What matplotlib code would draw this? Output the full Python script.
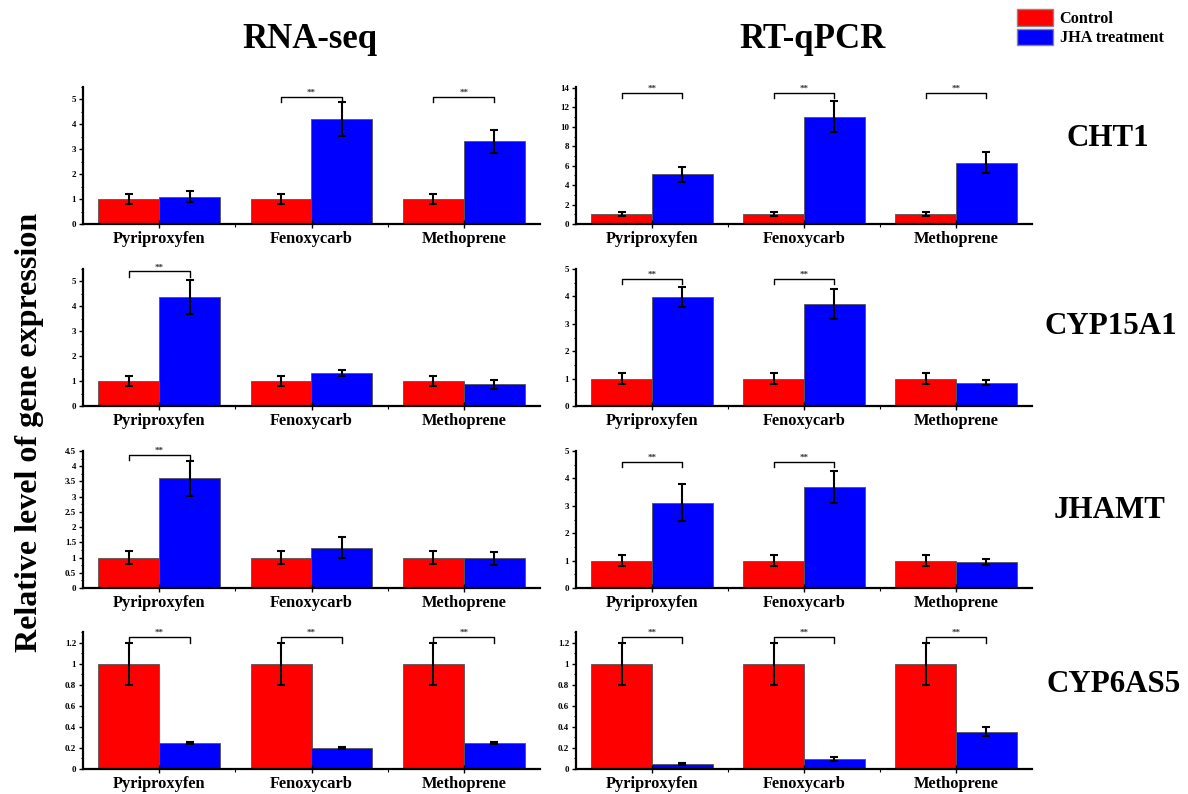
import numpy as np
import matplotlib.pyplot as plt
from matplotlib.patches import Patch
from matplotlib.ticker import MultipleLocator, FixedLocator

plt.rcParams['font.family'] = ['Liberation Serif', 'DejaVu Serif']
plt.rcParams['font.weight'] = 'bold'

treatments = ['Pyriproxyfen', 'Fenoxycarb', 'Methoprene']
genes = ['CHT1', 'CYP15A1', 'JHAMT', 'CYP6AS5']

# 对照组都是 1 ± 0.2
control_mean = [1.0, 1.0, 1.0]
control_err = [0.2, 0.2, 0.2]

# RNA-seq, JHA 处理组
rnaseq_mean = [
    [1.10, 4.20, 3.32],
    [4.37, 1.33, 0.87],
    [3.60, 1.33, 0.97],
    [0.25, 0.20, 0.25],
]
rnaseq_err = [
    [0.22, 0.68, 0.45],
    [0.68, 0.13, 0.17],
    [0.58, 0.33, 0.21],
    [0.01, 0.006, 0.01],
]
# RT-qPCR, JHA 处理组
qpcr_mean = [
    [5.10, 11.05, 6.32],
    [3.98, 3.72, 0.85],
    [3.12, 3.70, 0.95],
    [0.05, 0.095, 0.355],
]
qpcr_err = [
    [0.80, 1.60, 1.10],
    [0.35, 0.55, 0.10],
    [0.66, 0.58, 0.12],
    [0.01, 0.015, 0.045],
]

# 显著性标记 (** 的组别和高度)
rnaseq_sig = [[1, 2], [0], [0], [0, 1, 2]]
rnaseq_sig_y = [5.1, 5.4, 4.38, 1.25]
qpcr_sig = [[0, 1, 2], [0, 1], [0, 1], [0, 1, 2]]
qpcr_sig_y = [13.5, 4.65, 4.6, 1.25]

rnaseq_ylim = [5.5, 5.5, 4.5, 1.3]
qpcr_ylim = [14.1, 5.0, 5.0, 1.3]
rnaseq_ystep = [(1, 0.5), (1, 0.5), (0.5, 0.25), (0.2, 0.1)]
qpcr_ystep = [(2, 1), (1, 0.5), (1, 0.5), (0.2, 0.1)]

fig = plt.figure(figsize=(11.88, 7.94), dpi=100)

col_left = [83 / 1188, 576 / 1188]
col_width = [457 / 1188, 456 / 1188]
row_bottom = [224, 406, 588, 769]
ax_h = 137 / 794

width = 0.4
x = np.arange(len(treatments))


def draw_panel(ax, jha_mean, jha_err, sig_groups, sig_y, ytop, ystep):
    ax.bar(x - width / 2, control_mean, width, color='#ff0000', edgecolor='#555555', linewidth=0.6)
    ax.bar(x + width / 2, jha_mean, width, color='#0000ff', edgecolor='#555555', linewidth=0.6)
    ax.errorbar(x - width / 2, control_mean, yerr=control_err, fmt='none', ecolor='black',
                elinewidth=1.5, capsize=3, capthick=1.5)
    ax.errorbar(x + width / 2, jha_mean, yerr=jha_err, fmt='none', ecolor='black',
                elinewidth=1.5, capsize=3, capthick=1.5)

    drop = ytop * 0.04
    for g in sig_groups:
        x0, x1 = g - width / 2, g + width / 2
        ax.plot([x0, x0, x1, x1], [sig_y - drop, sig_y, sig_y, sig_y - drop],
                color='black', linewidth=1.0, clip_on=False)
        ax.text(g, sig_y, '**', ha='center', va='bottom', fontsize=6.5, color='#333333')

    ax.set_xlim(-0.5, 2.5)
    ax.set_ylim(0, ytop)
    ax.set_xticks(x)
    ax.set_xticklabels(treatments, fontsize=11.8, fontweight='bold')
    ax.xaxis.set_minor_locator(FixedLocator([0.5, 1.5]))
    ax.yaxis.set_major_locator(MultipleLocator(ystep[0]))
    ax.yaxis.set_minor_locator(MultipleLocator(ystep[1]))
    ax.yaxis.set_major_formatter(plt.FuncFormatter(lambda v, p: f'{v:g}'))
    for lab in ax.get_yticklabels():
        lab.set_fontweight('bold')
    ax.tick_params(axis='y', which='major', direction='out', length=3, width=1, labelsize=6.5, pad=2)
    ax.tick_params(axis='y', which='minor', direction='out', length=1.5, width=0.8)
    ax.tick_params(axis='x', which='major', direction='inout', length=6, width=1, pad=2)
    ax.tick_params(axis='x', which='minor', direction='out', length=2, width=0.8)
    for side in ['top', 'right']:
        ax.spines[side].set_visible(False)
    for side in ['left', 'bottom']:
        ax.spines[side].set_linewidth(1.6)


for r in range(4):
    b = 1 - row_bottom[r] / 794
    ax1 = fig.add_axes([col_left[0], b, col_width[0], ax_h])
    draw_panel(ax1, rnaseq_mean[r], rnaseq_err[r], rnaseq_sig[r], rnaseq_sig_y[r],
               rnaseq_ylim[r], rnaseq_ystep[r])
    ax2 = fig.add_axes([col_left[1], b, col_width[1], ax_h])
    draw_panel(ax2, qpcr_mean[r], qpcr_err[r], qpcr_sig[r], qpcr_sig_y[r],
               qpcr_ylim[r], qpcr_ystep[r])

# 标题和基因名
fig.text(310 / 1188, 1 - 40 / 794, 'RNA-seq', ha='center', va='center', fontsize=25, fontweight='bold')
fig.text(812 / 1188, 1 - 40 / 794, 'RT-qPCR', ha='center', va='center', fontsize=25, fontweight='bold')
gene_y = [139, 327, 510, 685]
gene_x = [1108, 1111, 1110, 1114]
for g, xx, yy in zip(genes, gene_x, gene_y):
    fig.text(xx / 1188, 1 - yy / 794, g, ha='center', va='center', fontsize=22.3, fontweight='bold')

fig.text(30 / 1188, 1 - 432 / 794, 'Relative level of gene expression', rotation=90,
         ha='center', va='center', fontsize=23, fontweight='bold')

handles = [Patch(facecolor='#ff0000', edgecolor='#888888', label='Control'),
           Patch(facecolor='#0000ff', edgecolor='#888888', label='JHA treatment')]
fig.legend(handles=handles, loc='upper left', bbox_to_anchor=(1006 / 1188, 1 + 2 / 794),
           frameon=False, handlelength=2.2, handleheight=1.15,
           handletextpad=0.4, labelspacing=0.12, borderpad=0.2,
           prop={'weight': 'bold', 'size': 11.7})

fig.savefig('out.png', dpi=100)
